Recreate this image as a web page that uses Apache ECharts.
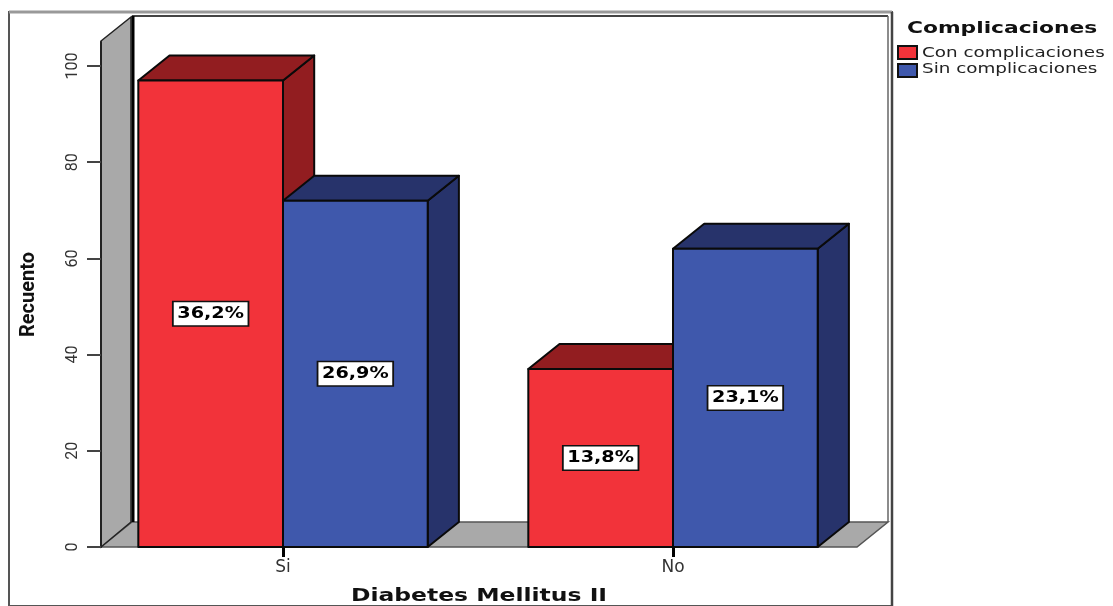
<!DOCTYPE html>
<html><head><meta charset="utf-8">
<style>html,body{margin:0;padding:0;background:#fff}#c{width:1113px;height:606px}</style>
<script src="https://cdn.jsdelivr.net/npm/echarts@6/dist/echarts.min.js"></script>
</head><body><div id="c"></div>
<script>
const categories = ['Si', 'No'];
const seriesNames = ['Con complicaciones', 'Sin complicaciones'];
const conComplicaciones = [97, 37];
const sinComplicaciones = [72, 62];
const conLabels = ['36,2%', '13,8%'];
const sinLabels = ['26,9%', '23,1%'];
const yTicks = [0, 20, 40, 60, 80, 100];

const chart = echarts.init(document.getElementById('c'));
const BAR = 0.371, DX = 0.08, DY = 5.2;

function render3d(side, face, dark, labels) {
  return function (params, api) {
    const i = api.value(0), v = api.value(1);
    const c = api.coord([i, v]), b = api.coord([i, 0]);
    const band = api.size([1, 0])[0];
    const w = band * BAR, dx = band * DX, dy = api.size([0, DY])[1];
    const x0 = side < 0 ? c[0] - w : c[0], x1 = x0 + w, yT = c[1], yB = b[1];
    const edge = { stroke: '#0a0a0a', lineWidth: 2, lineJoin: 'round' };
    const poly = (pts, fill) => ({ type: 'polygon', shape: { points: pts }, style: Object.assign({ fill }, edge) });
    const cx = (x0 + x1) / 2, cy = (yT + yB) / 2;
    return { type: 'group', children: [
      poly([[x1, yB], [x1 + dx, yB - dy], [x1 + dx, yT - dy], [x1, yT]], dark),
      poly([[x0, yT], [x0 + dx, yT - dy], [x1 + dx, yT - dy], [x1, yT]], dark),
      { type: 'rect', shape: { x: x0, y: yT, width: w, height: yB - yT }, style: Object.assign({ fill: face }, edge) },
      { type: 'text', x: cx, y: cy, z2: 10, scaleX: 1.2, style: {
          text: labels[i], fill: '#000', align: 'center', verticalAlign: 'middle',
          font: 'bold 16px "DejaVu Sans"', backgroundColor: '#fff', borderColor: '#111', borderWidth: 1.5,
          padding: [4, 3, 3, 3] } }
    ] };
  };
}

const gray = '#a9a9a9';
const wideText = (text, x, y, font, scaleX, fill, align) => ({
  type: 'text', z: 5, x, y, scaleX,
  style: { text, font, fill, align: align || 'left', verticalAlign: 'middle' }
});
chart.setOption({
  animation: false,
  backgroundColor: '#fff',
  legend: { orient: 'vertical', left: 897, top: 45, itemWidth: 19, itemHeight: 13, itemGap: 3, icon: 'rect', padding: 0,
    formatter: () => '', data: seriesNames },
  grid: { left: 88, right: 245, top: 42, bottom: 59, outerBoundsMode: 'none' },
  xAxis: { type: 'category', data: categories,
    axisLine: { show: false },
    axisTick: { show: true, alignWithLabel: true, length: 10, lineStyle: { color: '#000', width: 3 } },
    axisLabel: { margin: 12, fontFamily: 'DejaVu Sans', fontSize: 17, color: '#333' } },
  yAxis: { type: 'value', min: 0, max: 105, offset: -13,
    splitLine: { show: false },
    axisLine: { show: true, lineStyle: { color: '#222', width: 2 } },
    axisTick: { show: true, customValues: yTicks, length: 14, lineStyle: { color: '#444', width: 2 } },
    axisLabel: { customValues: yTicks, rotate: 90, margin: 20, fontFamily: 'Roboto', fontSize: 16, color: '#333' },
    name: 'Recuento', nameLocation: 'middle', nameGap: 62, nameRotate: 90,
    nameTextStyle: { fontFamily: 'Roboto', fontWeight: 'bold', fontSize: 20, color: '#111' } },
  graphic: { elements: [
    { type: 'rect', z: 0, shape: { x: 9, y: 12, width: 883, height: 594 }, style: { fill: '#fff', stroke: '#555', lineWidth: 2 } },
    { type: 'line', z: 0, shape: { x1: 9, y1: 12, x2: 892, y2: 12 }, style: { stroke: '#999', lineWidth: 3 } },
    { type: 'line', z: 0, shape: { x1: 892, y1: 12, x2: 892, y2: 606 }, style: { stroke: '#444', lineWidth: 2.5 } },
    { type: 'line', z: 0, shape: { x1: 132, y1: 16, x2: 888, y2: 16 }, style: { stroke: '#444', lineWidth: 2 } },
    { type: 'line', z: 0, shape: { x1: 888, y1: 16, x2: 888, y2: 522 }, style: { stroke: '#666', lineWidth: 1.5 } },
    { type: 'polygon', z: 0, shape: { points: [[101, 547], [132, 522], [888, 522], [857, 547]] }, style: { fill: gray, stroke: '#555', lineWidth: 1.5 } },
    { type: 'polygon', z: 0, shape: { points: [[101, 41], [131, 17], [131, 522], [101, 547]] }, style: { fill: gray, stroke: '#222', lineWidth: 1.5 } },
    { type: 'rect', z: 1, shape: { x: 131.5, y: 16, width: 3, height: 506 }, style: { fill: '#000' } },
    wideText('Complicaciones', 907, 29, 'bold 16px "DejaVu Sans"', 1.36, '#111'),
    wideText(seriesNames[0], 922, 53, '14.5px "DejaVu Sans"', 1.265, '#222'),
    wideText(seriesNames[1], 922, 69, '14.5px "DejaVu Sans"', 1.265, '#222'),
    wideText('Diabetes Mellitus II', 479, 597, 'bold 17px "DejaVu Sans"', 1.38, '#111', 'center')
  ] },
  series: [
    { name: seriesNames[0], type: 'custom', coordinateSystem: 'cartesian2d',
      renderItem: render3d(-1, '#f2333a', '#921d20', conLabels),
      itemStyle: { color: '#f2333a', borderColor: '#111', borderWidth: 1.5 },
      encode: { x: 0, y: 1 },
      data: conComplicaciones.map((v, i) => [i, v]) },
    { name: seriesNames[1], type: 'custom', coordinateSystem: 'cartesian2d',
      renderItem: render3d(1, '#3f58ac', '#27336b', sinLabels),
      itemStyle: { color: '#3f58ac', borderColor: '#111', borderWidth: 1.5 },
      encode: { x: 0, y: 1 },
      data: sinComplicaciones.map((v, i) => [i, v]) }
  ]
});
</script></body></html>
